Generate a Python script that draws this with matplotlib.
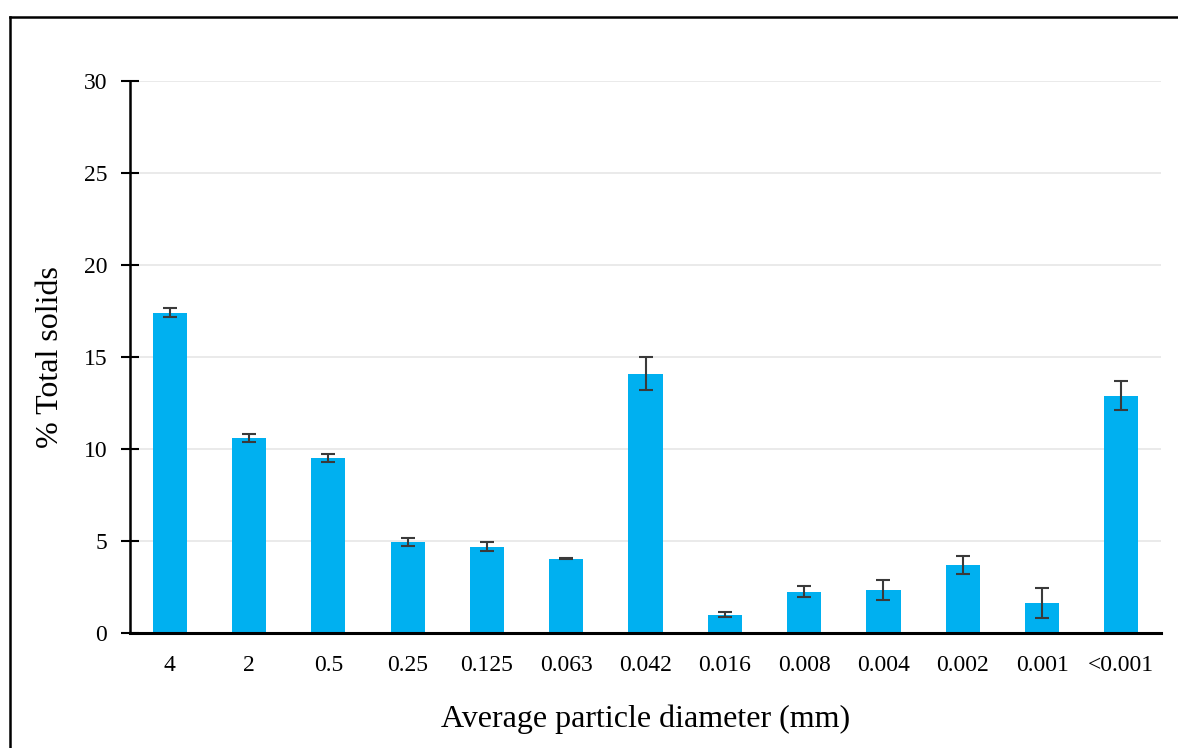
import matplotlib
matplotlib.use("Agg")
import matplotlib.pyplot as plt
from matplotlib.lines import Line2D

# particle size fractions
diameters = ["4", "2", "0.5", "0.25", "0.125", "0.063", "0.042",
             "0.016", "0.008", "0.004", "0.002", "0.001", "<0.001"]
total_solids = [17.4, 10.6, 9.5, 4.95, 4.7, 4.05, 14.1,
                1.0, 2.25, 2.35, 3.7, 1.65, 12.9]
errors = [0.25, 0.2, 0.22, 0.2, 0.25, 0.05, 0.88,
          0.14, 0.31, 0.54, 0.49, 0.82, 0.8]

plt.rcParams["font.family"] = ["Liberation Serif", "DejaVu Serif"]

fig = plt.figure(figsize=(11.78, 7.48), dpi=100)
ax = fig.add_axes([0.1104, 0.1537, 0.8752, 0.738])

x = range(len(diameters))
ax.bar(x, total_solids, width=0.43, color="#00B0F0", zorder=2)
ax.errorbar(x, total_solids, yerr=errors, fmt="none", ecolor="#3a3a3a",
            elinewidth=1.5, capsize=5, capthick=1.5, zorder=3)

ax.set_xlim(-0.5, len(diameters) - 0.5)
ax.set_ylim(0, 30)
ax.set_yticks(range(0, 31, 5))
ax.set_xticks(list(x))
ax.set_xticklabels(diameters)
ax.tick_params(axis="x", length=0, pad=16, labelsize=17)
ax.tick_params(axis="y", direction="inout", length=13, width=1.5, pad=10, labelsize=17)
ax.grid(axis="y", color="#e6e6e6", linewidth=1.2, zorder=0)
ax.set_axisbelow(True)

for side in ("top", "right"):
    ax.spines[side].set_visible(False)
ax.spines["left"].set_linewidth(1.8)
ax.spines["bottom"].set_linewidth(2.2)

ax.set_xlabel("Average particle diameter (mm)", fontsize=23, labelpad=20)
ax.set_ylabel("% Total solids", fontsize=23, labelpad=13)

# outer frame that runs past the image edges
fig.add_artist(Line2D([0.0085, 0.0085], [-0.1, 0.977], transform=fig.transFigure,
                      color="black", linewidth=1.8))
fig.add_artist(Line2D([0.0085, 1.1], [0.977, 0.977], transform=fig.transFigure,
                      color="black", linewidth=1.8))

fig.savefig("out.png", dpi=100)
